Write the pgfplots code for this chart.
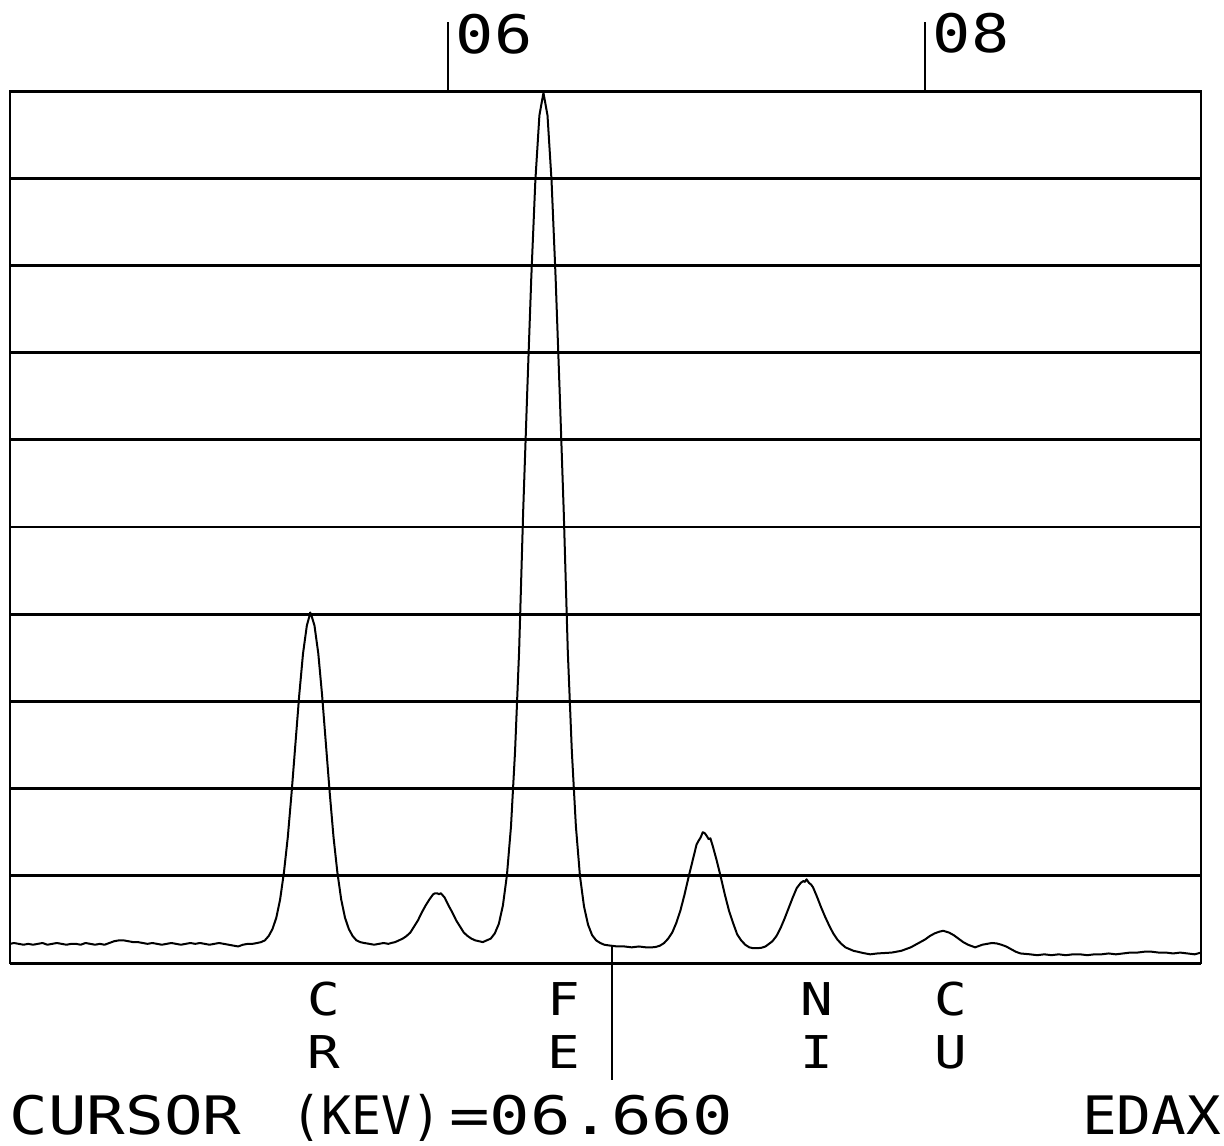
\documentclass[border=0pt]{standalone}
\usepackage{pgfplots}
\pgfplotsset{compat=1.18}
\usepackage{fontspec}
\usepackage{graphicx}
\newfontfamily\plotfont{DejaVu Sans Mono}
\newcommand{\bigtxt}[2]{\scalebox{#1}[1]{\plotfont\fontsize{26.5}{29}\selectfont #2}}
\newcommand{\smtxt}[1]{\scalebox{1.2}[1]{\plotfont\fontsize{22.6}{26}\selectfont #1}}
\begin{document}
\begin{tikzpicture}
\begin{axis}[
  scale only axis, width=595.5pt, height=436pt,
  xmin=4.1635, xmax=9.157, ymin=0, ymax=10,
  xtick=\empty, ytick={1,2,...,9}, yticklabels=\empty,
  ymajorgrids, major grid style={black, line width=1.4pt},
  major tick length=0pt,
  axis line style={black, line width=0.9pt},
  clip=false,
]
\addplot[black, line width=1pt, line join=round, no markers] table {
x y
4.164 0.22
4.18 0.23
4.20 0.22
4.22 0.21
4.24 0.22
4.26 0.21
4.28 0.22
4.30 0.23
4.32 0.21
4.34 0.22
4.36 0.23
4.38 0.22
4.40 0.21
4.42 0.22
4.44 0.22
4.46 0.21
4.48 0.23
4.50 0.22
4.52 0.21
4.54 0.22
4.56 0.21
4.58 0.23
4.60 0.25
4.62 0.26
4.64 0.26
4.66 0.25
4.68 0.24
4.70 0.24
4.72 0.23
4.74 0.22
4.76 0.23
4.78 0.22
4.80 0.21
4.82 0.22
4.84 0.23
4.86 0.22
4.88 0.21
4.90 0.22
4.92 0.23
4.94 0.22
4.96 0.23
4.98 0.22
5.00 0.21
5.02 0.22
5.04 0.23
5.06 0.22
5.08 0.21
5.10 0.20
5.12 0.19
5.14 0.21
5.16 0.22
5.18 0.22
5.20 0.23
5.216 0.24
5.232 0.26
5.248 0.31
5.264 0.39
5.280 0.52
5.296 0.73
5.312 1.04
5.328 1.44
5.344 1.95
5.360 2.51
5.376 3.07
5.392 3.55
5.408 3.87
5.418 3.97
5.422 4.02
5.428 3.98
5.440 3.87
5.456 3.55
5.472 3.07
5.488 2.51
5.504 1.95
5.520 1.44
5.536 1.04
5.552 0.73
5.568 0.52
5.584 0.39
5.600 0.31
5.616 0.26
5.632 0.24
5.648 0.23
5.67 0.22
5.69 0.21
5.71 0.22
5.73 0.23
5.75 0.22
5.762 0.23
5.778 0.24
5.794 0.26
5.810 0.28
5.826 0.31
5.842 0.35
5.858 0.42
5.874 0.49
5.890 0.58
5.906 0.66
5.922 0.73
5.938 0.79
5.946 0.80
5.954 0.80
5.962 0.79
5.970 0.80
5.986 0.75
6.002 0.66
6.018 0.58
6.034 0.49
6.050 0.42
6.066 0.35
6.082 0.31
6.098 0.28
6.114 0.26
6.130 0.25
6.146 0.24
6.162 0.26
6.179 0.28
6.196 0.34
6.213 0.45
6.230 0.66
6.247 1.01
6.264 1.57
6.281 2.43
6.298 3.58
6.315 5.18
6.332 6.55
6.349 7.86
6.366 8.97
6.383 9.72
6.400 9.98
6.417 9.72
6.434 8.97
6.451 7.86
6.468 6.55
6.485 5.18
6.502 3.58
6.519 2.43
6.536 1.57
6.553 1.00
6.570 0.65
6.587 0.44
6.604 0.32
6.621 0.26
6.638 0.23
6.655 0.21
6.68 0.20
6.71 0.19
6.74 0.19
6.77 0.18
6.80 0.19
6.83 0.18
6.855 0.18
6.872 0.185
6.889 0.20
6.906 0.23
6.923 0.28
6.940 0.35
6.957 0.46
6.974 0.60
6.991 0.78
7.008 0.98
7.025 1.17
7.042 1.36
7.050 1.40
7.059 1.44
7.068 1.50
7.076 1.49
7.084 1.46
7.093 1.42
7.100 1.43
7.110 1.34
7.127 1.17
7.144 0.98
7.161 0.78
7.178 0.60
7.195 0.46
7.212 0.33
7.229 0.26
7.246 0.21
7.263 0.18
7.280 0.17
7.297 0.17
7.314 0.175
7.331 0.19
7.348 0.225
7.360 0.25
7.377 0.31
7.394 0.40
7.411 0.51
7.428 0.63
7.445 0.75
7.462 0.86
7.479 0.92
7.490 0.94
7.496 0.93
7.503 0.96
7.513 0.92
7.522 0.90
7.530 0.87
7.547 0.76
7.564 0.64
7.581 0.53
7.598 0.43
7.615 0.34
7.632 0.27
7.649 0.22
7.666 0.18
7.683 0.16
7.700 0.14
7.717 0.13
7.74 0.115
7.77 0.10
7.80 0.11
7.83 0.115
7.86 0.12
7.90 0.14
7.94 0.18
7.98 0.24
8.00 0.27
8.02 0.31
8.04 0.34
8.06 0.36
8.076 0.37
8.10 0.35
8.12 0.32
8.14 0.28
8.16 0.24
8.18 0.21
8.20 0.19
8.21 0.18
8.22 0.19
8.24 0.21
8.26 0.22
8.28 0.23
8.30 0.225
8.32 0.21
8.34 0.19
8.36 0.16
8.38 0.13
8.40 0.11
8.44 0.10
8.47 0.09
8.50 0.10
8.53 0.09
8.56 0.10
8.59 0.09
8.62 0.10
8.65 0.10
8.68 0.09
8.71 0.10
8.74 0.10
8.77 0.11
8.80 0.10
8.83 0.11
8.86 0.12
8.89 0.12
8.92 0.13
8.95 0.13
8.98 0.12
9.01 0.12
9.04 0.11
9.07 0.12
9.10 0.11
9.13 0.10
9.157 0.12
};
\draw[line width=1.5pt] (rel axis cs:0,0) -- (rel axis cs:1,0);
\draw[line width=1.5pt] (rel axis cs:0,1) -- (rel axis cs:1,1);
\draw[line width=1pt] (axis cs:6,10) -- (axis cs:6,10.79);
\draw[line width=1pt] (axis cs:8,10) -- (axis cs:8,10.79);
\draw[line width=1pt] (axis cs:6.689,0.19) -- (axis cs:6.689,-1.342);
\node[anchor=base, inner sep=0pt] at (axis cs:6.1929,10.436) {\bigtxt{1.2}{06}};
\node[anchor=base, inner sep=0pt] at (axis cs:8.1929,10.447) {\bigtxt{1.2}{08}};
\node[anchor=base, inner sep=0pt] at (axis cs:5.480,-0.596) {\smtxt{C}};
\node[anchor=base, inner sep=0pt] at (axis cs:5.480,-1.204) {\smtxt{R}};
\node[anchor=base, inner sep=0pt] at (axis cs:6.486,-0.596) {\smtxt{F}};
\node[anchor=base, inner sep=0pt] at (axis cs:6.486,-1.204) {\smtxt{E}};
\node[anchor=base, inner sep=0pt] at (axis cs:7.547,-0.596) {\smtxt{N}};
\node[anchor=base, inner sep=0pt] at (axis cs:7.547,-1.204) {\smtxt{I}};
\node[anchor=base, inner sep=0pt] at (axis cs:8.109,-0.596) {\smtxt{C}};
\node[anchor=base, inner sep=0pt] at (axis cs:8.109,-1.204) {\smtxt{U}};
\node[anchor=base, inner sep=0pt] at (axis cs:4.6478,-1.961) {\bigtxt{1.21}{CURSOR}};
\node[anchor=base, inner sep=0pt] at (axis cs:5.660,-1.961) {\bigtxt{0.94}{(KEV)}};
\node[anchor=base, inner sep=0pt] at (axis cs:6.600,-1.961) {\bigtxt{1.27}{=06.660}};
\node[anchor=base, inner sep=0pt] at (axis cs:8.9497,-1.961) {\bigtxt{1.09}{EDAX}};
\coordinate (bbl) at (rel axis cs:-0.0084,-0.2087);
\coordinate (btr) at (rel axis cs:1.0193,1.1044);
\end{axis}
\pgfresetboundingbox
\path[use as bounding box] (bbl) rectangle (btr);
\end{tikzpicture}
\end{document}
